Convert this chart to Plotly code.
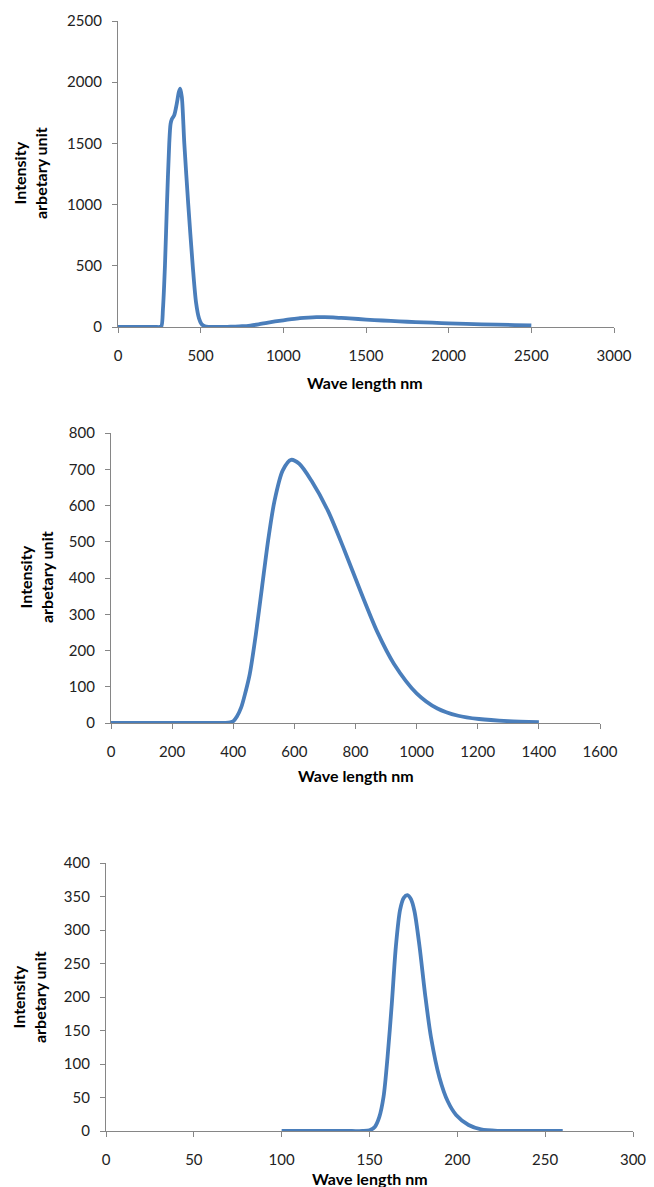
import plotly.graph_objects as go

W, H = 654, 1187

# Chart 1 data
wl1 = [0, 100, 200, 230, 250, 262, 272, 284, 296, 310, 318, 326, 340, 355, 368, 376, 386, 401, 425, 452, 472,
       490, 505, 525, 550, 580, 620, 660, 700, 750, 800, 850, 900, 950, 1000, 1050, 1100, 1150, 1200, 1250,
       1300, 1350, 1400, 1500, 1600, 1700, 1800, 1900, 2000, 2200, 2400, 2500]
int1 = [0, 0, 0, 0, 0, 5, 150, 500, 1000, 1500, 1660, 1700, 1730, 1820, 1920, 1948, 1880, 1500, 1000, 500, 200,
        70, 25, 6, 1, 0, 0, 1, 3, 6, 12, 22, 34, 45, 55, 64, 72, 77, 80, 80,
        78, 74, 70, 61, 53, 46, 40, 35, 30, 22, 16, 13]

# Chart 2 data
wl2 = [0, 100, 200, 300, 350, 375, 390, 400, 412, 426, 440, 454, 474, 494, 514, 535, 562, 589, 616, 656, 710,
       764, 818, 872, 926, 1000, 1068, 1136, 1204, 1300, 1400]
int2 = [0, 0, 0, 0, 0, 0.5, 2, 5, 18, 43, 85, 135, 245, 374, 503, 613, 697, 726, 715, 668, 585,
        476, 360, 250, 163, 82, 40, 20, 11, 5, 2]

# Chart 3 data
wl3 = [100, 120, 140, 146, 150, 153, 155.6, 158, 160.3, 162.7, 165, 167.4, 169.5, 171.6, 173.6, 175.6, 178.5,
       181.6, 185, 189.8, 194.6, 199.3, 206.4, 213.5, 223, 235, 260]
int3 = [0, 0, 0, 0, 1, 6, 21, 51, 111, 190, 275, 330, 348, 352, 346, 328, 275,
        205, 140, 80, 44, 24, 9, 2.5, 0.3, 0, 0]

x_title = "Wave length nm"
y_title = "Intensity<br>arbetary unit"

LINE = "#4A7EBB"
AXC = "#868686"
FONT = "Lato"
TXT = "#222222"

panels = [
    dict(x=wl1, y=int1, xr=[0, 3000], xd=500, yr=[0, 2500], yd=500,
         px=(118, 614), py=(21, 327), xt=(365, 382), yt=(30, 173)),
    dict(x=wl2, y=int2, xr=[0, 1600], xd=200, yr=[0, 800], yd=100,
         px=(111, 600), py=(433, 723), xt=(356, 775), yt=(36, 577)),
    dict(x=wl3, y=int3, xr=[0, 300], xd=50, yr=[0, 400], yd=50,
         px=(106, 633), py=(863, 1131), xt=(370, 1178), yt=(29, 997)),
]

fig = go.Figure()
annotations = []
for i, p in enumerate(panels, start=1):
    sfx = "" if i == 1 else str(i)
    fig.add_trace(go.Scatter(x=p["x"], y=p["y"], mode="lines",
                             line=dict(color=LINE, width=3.8, shape="spline", smoothing=0.8),
                             xaxis="x" + sfx, yaxis="y" + sfx, showlegend=False,
                             hoverinfo="skip", cliponaxis=True))
    common = dict(showline=True, linecolor=AXC, linewidth=1.3, ticks="outside",
                  tickcolor=AXC, ticklen=5, tickwidth=1.3, showgrid=False, zeroline=False,
                  automargin=False,
                  tickfont=dict(family=FONT, size=15, color=TXT))
    fig.update_layout(**{
        "xaxis" + sfx: dict(domain=[p["px"][0] / W, p["px"][1] / W], range=p["xr"],
                            dtick=p["xd"], tick0=0, anchor="y" + sfx,
                            ticklabelstandoff=10, **common),
        "yaxis" + sfx: dict(domain=[1 - p["py"][1] / H, 1 - p["py"][0] / H], range=p["yr"],
                            dtick=p["yd"], tick0=0, anchor="x" + sfx,
                            ticklabelstandoff=7, **common),
    })
    annotations.append(dict(text=x_title, xref="paper", yref="paper",
                            x=p["xt"][0] / W, y=1 - p["xt"][1] / H,
                            xanchor="center", yanchor="middle", showarrow=False,
                            font=dict(family=FONT, size=16, color="#000", weight="bold")))
    annotations.append(dict(text=y_title, xref="paper", yref="paper",
                            x=p["yt"][0] / W, y=1 - p["yt"][1] / H, textangle=-90,
                            xanchor="center", yanchor="middle", showarrow=False,
                            font=dict(family=FONT, size=16, color="#000", weight="bold")))

fig.update_layout(width=W, height=H, margin=dict(l=0, r=0, t=0, b=0, autoexpand=False),
                  paper_bgcolor="white", plot_bgcolor="white",
                  annotations=annotations)

fig.write_html("out.html", config={"displayModeBar": False},
               post_script="document.body.style.margin='0';document.body.style.overflow='hidden';")
